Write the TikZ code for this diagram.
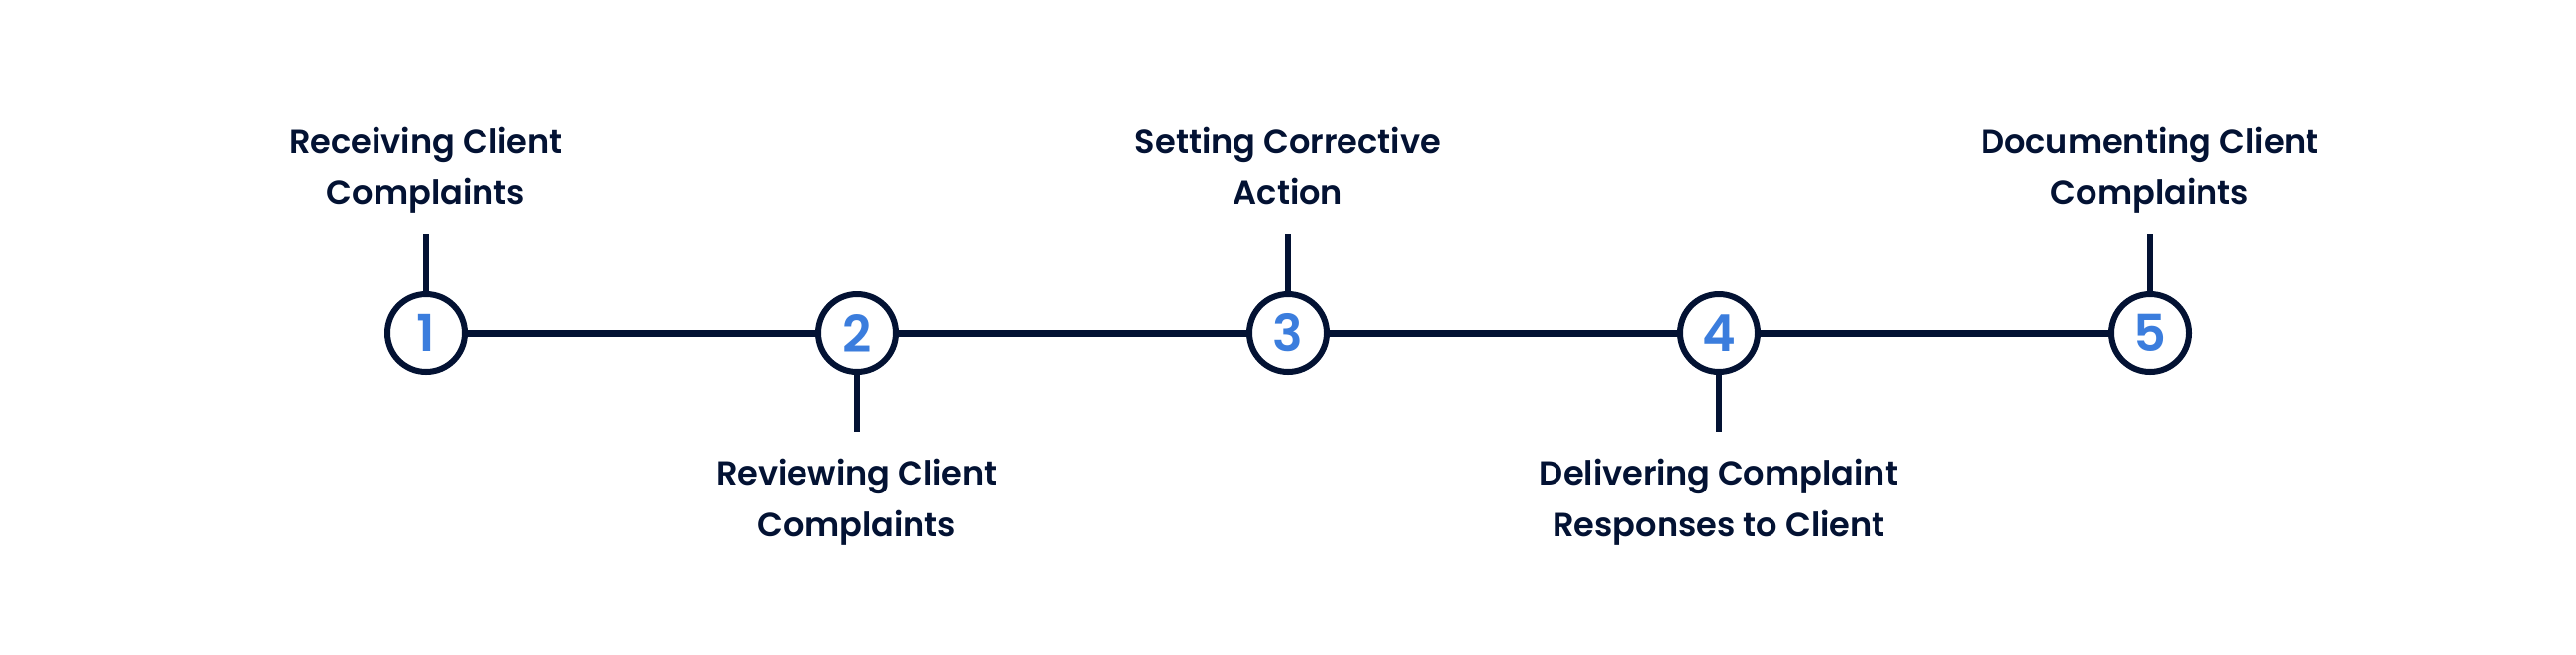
\documentclass[tikz,border=0pt]{standalone}
\usepackage{fontspec}
\setmainfont{Poppins}
\newfontfamily\labelfont{Poppins SemiBold}
\definecolor{navy}{RGB}{3,18,51}
\definecolor{stepblue}{RGB}{59,125,221}

\tikzset{every picture/.style={line width=3pt}}
\tikzset{
  stepcircle/.style={circle, draw=navy, line width=3pt, fill=white, minimum size=39pt, inner sep=0pt,
    text=stepblue, font=\labelfont\fontsize{25.5}{26}\selectfont},
  steptext/.style={align=center, text=navy, font=\labelfont\fontsize{16.8}{26}\selectfont},
  stemline/.style={draw=navy, line width=2.75pt},
  timeline/.style={draw=navy, line width=3.5pt}
}

\begin{document}
\begin{tikzpicture}[x=0.5pt,y=0.5pt,yscale=-1,xscale=1]
\useasboundingbox (0,0) rectangle (2600,660);

%Shape: Circle [id:step1]
\node[stepcircle] (c1) at (430,336) {1};
%Shape: Circle [id:step2]
\node[stepcircle] (c2) at (865,336) {2};
%Shape: Circle [id:step3]
\node[stepcircle] (c3) at (1300,336) {3};
%Shape: Circle [id:step4]
\node[stepcircle] (c4) at (1735,336) {4};
%Shape: Circle [id:step5]
\node[stepcircle] (c5) at (2170,336) {5};

%Straight Lines: timeline
\draw[timeline] (c1) -- (c2);
\draw[timeline] (c2) -- (c3);
\draw[timeline] (c3) -- (c4);
\draw[timeline] (c4) -- (c5);

%Straight Lines: stems
\coordinate (t1) at (430,236);
\coordinate (t2) at (865,436);
\coordinate (t3) at (1300,236);
\coordinate (t4) at (1735,436);
\coordinate (t5) at (2170,236);
\draw[stemline] (c1.north) -- (t1);
\draw[stemline] (c2.south) -- (t2);
\draw[stemline] (c3.north) -- (t3);
\draw[stemline] (c4.south) -- (t4);
\draw[stemline] (c5.north) -- (t5);

% Text Nodes
\node[steptext, anchor=south, inner sep=5.5pt] (l1) at (t1) {Receiving Client\\Complaints\strut};
\node[steptext, anchor=north, inner sep=7.1pt] (l2) at (t2) {\strut Reviewing Client\\Complaints};
\node[steptext, anchor=south, inner sep=5.5pt] (l3) at (t3) {Setting Corrective\\Action\strut};
\node[steptext, anchor=north, inner sep=7.1pt] (l4) at (t4) {\strut Delivering Complaint\\Responses to Client};
\node[steptext, anchor=south, inner sep=5.5pt] (l5) at (t5) {Documenting Client\\Complaints\strut};
\end{tikzpicture}
\end{document}
